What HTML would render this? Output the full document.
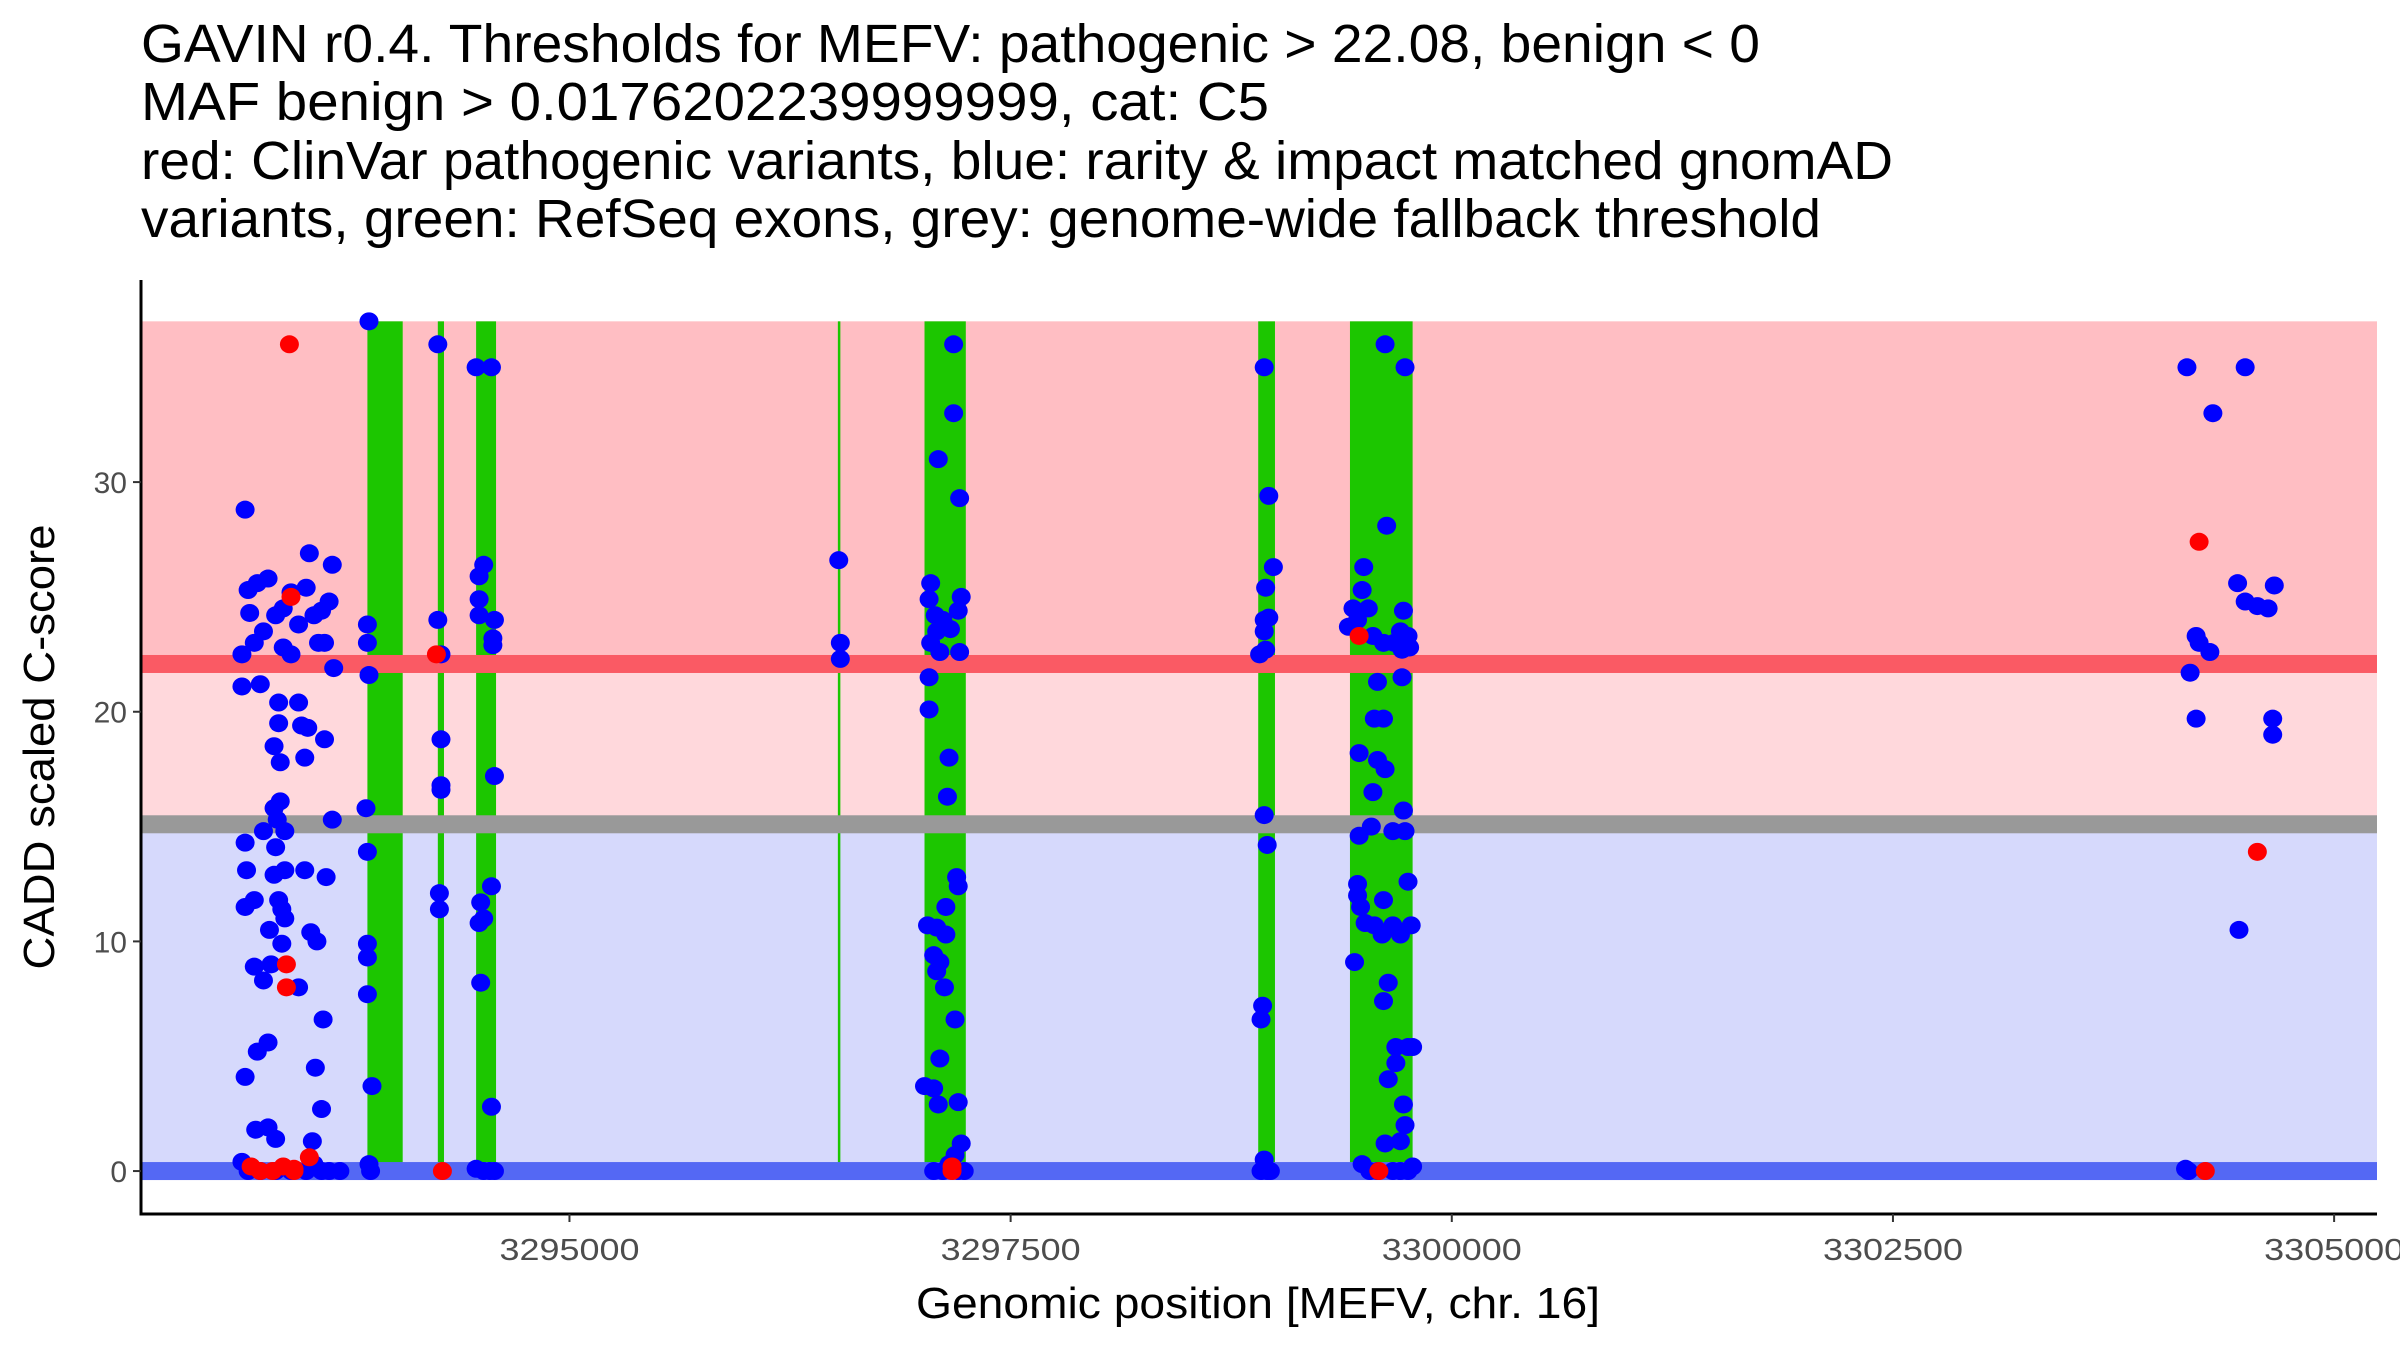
<!DOCTYPE html>
<html><head><meta charset="utf-8"><style>
html,body{margin:0;padding:0;background:#fff;}
svg{display:block;font-family:"Liberation Sans",Arial,sans-serif;}
</style></head><body>
<svg id="chart" width="2400" height="1350" viewBox="0 0 2400 1350" xmlns="http://www.w3.org/2000/svg">
<g font-size="54" fill="#000">
<text x="141" y="62" textLength="1619" lengthAdjust="spacingAndGlyphs">GAVIN r0.4. Thresholds for MEFV: pathogenic &gt; 22.08, benign &lt; 0</text>
<text x="141" y="120" textLength="1128" lengthAdjust="spacingAndGlyphs">MAF benign &gt; 0.0176202239999999, cat: C5</text>
<text x="141" y="179" textLength="1752" lengthAdjust="spacingAndGlyphs">red: ClinVar pathogenic variants, blue: rarity &amp; impact matched gnomAD</text>
<text x="141" y="237" textLength="1680" lengthAdjust="spacingAndGlyphs">variants, green: RefSeq exons, grey: genome-wide fallback threshold</text>
</g>
<g id="bands"></g>
<g id="exons"></g>
<g id="thresholds"></g>
<g id="points"></g>
<g id="axes"></g>
<text x="1258" y="1318" font-size="44" text-anchor="middle" textLength="684" lengthAdjust="spacingAndGlyphs">Genomic position [MEFV, chr. 16]</text>
<text transform="translate(54,747) rotate(-90)" font-size="44" text-anchor="middle" textLength="445" lengthAdjust="spacingAndGlyphs">CADD scaled C-score</text>
</svg>
<script>
const xTicks = [3295000, 3297500, 3300000, 3302500, 3305000];
const yTicks = [0, 10, 20, 30];
const pathogenicThreshold = 22.08;
const benignThreshold = 0;
const fallbackThreshold = 15.1;
const maxScore = 37;
const exons = [[3293855,3294055],[3294254,3294289],[3294471,3294584],[3296521,3296531],[3297012,3297246],[3298903,3298998],[3299423,3299778]];
const bluePoints = [
[3293162,28.8],[3293144,22.5],[3293144,21.1],[3293188,24.3],[3293179,25.3],[3293231,25.6],[3293292,25.8],[3293335,24.2],[3293266,23.5],[3293214,23],[3293378,24.5],[3293422,25.2],[3293465,23.8],[3293508,25.4],[3293552,24.2],[3293595,24.4],[3293638,24.8],[3293656,26.4],[3293526,26.9],[3293578,23],[3293612,23],[3293378,22.8],[3293422,22.5],[3293248,21.2],[3293352,20.4],[3293465,20.4],[3293352,19.5],[3293482,19.4],[3293517,19.3],[3293326,18.5],[3293361,17.8],[3293500,18],[3293612,18.8],[3293664,21.9],[3293162,14.3],[3293266,14.8],[3293326,15.8],[3293361,16.1],[3293344,15.3],[3293387,14.8],[3293335,14.1],[3293656,15.3],[3293170,13.1],[3293326,12.9],[3293387,13.1],[3293500,13.1],[3293621,12.8],[3293162,11.5],[3293214,11.8],[3293352,11.8],[3293370,11.4],[3293387,11],[3293300,10.5],[3293534,10.4],[3293569,10],[3293370,9.9],[3293214,8.9],[3293309,9],[3293266,8.3],[3293465,8],[3293604,6.6],[3293292,5.6],[3293231,5.2],[3293560,4.5],[3293162,4.1],[3293595,2.7],[3293222,1.8],[3293292,1.9],[3293335,1.4],[3293543,1.3],[3293144,0.4],[3293179,0],[3293248,0],[3293335,0],[3293422,0],[3293508,0],[3293552,0.3],[3293595,0],[3293638,0],[3293699,0],
[3293864,37],[3293855,23.8],[3293855,23],[3293864,21.6],[3293847,15.8],[3293855,13.9],[3293855,9.9],[3293855,9.3],[3293855,7.7],[3293881,3.7],[3293873,0],[3293864,0.3],
[3294254,36],[3294254,24],[3294272,22.5],[3294272,18.8],[3294272,16.8],[3294272,16.6],[3294263,12.1],[3294263,11.4],
[3294471,35],[3294558,35],[3294488,25.9],[3294514,26.4],[3294488,24.9],[3294488,24.2],[3294575,24],[3294566,23.2],[3294566,22.9],[3294575,17.2],[3294558,12.4],[3294497,11.7],[3294514,11],[3294488,10.8],[3294497,8.2],[3294558,2.8],[3294471,0.1],[3294514,0],[3294549,0],[3294575,0],
[3296526,26.6],[3296535,23],[3296535,22.3],
[3297177,36],[3297177,33],[3297090,31],[3297211,29.3],[3297047,25.6],[3297038,24.9],[3297073,24.2],[3297081,23.5],[3297116,24],[3297159,23.6],[3297203,24.4],[3297220,25],[3297047,23],[3297099,22.6],[3297211,22.6],[3297038,21.5],[3297038,20.1],[3297151,18],[3297142,16.3],[3297194,12.8],[3297203,12.4],[3297029,10.7],[3297081,10.6],[3297133,10.3],[3297133,11.5],[3297064,9.4],[3297099,9.1],[3297081,8.7],[3297125,8],[3297185,6.6],[3297099,4.9],[3297012,3.7],[3297064,3.6],[3297090,2.9],[3297203,3],[3297220,1.2],[3297185,0.7],[3297064,0],[3297116,0],[3297151,0.3],[3297203,0],[3297237,0],
[3298937,35],[3298963,29.4],[3298989,26.3],[3298945,25.4],[3298937,24],[3298963,24.1],[3298937,23.5],[3298911,22.5],[3298945,22.7],[3298937,15.5],[3298954,14.2],[3298928,7.2],[3298919,6.6],[3298937,0.5],[3298919,0],[3298954,0],[3298972,0],
[3299622,36],[3299735,35],[3299631,28.1],[3299501,26.3],[3299492,25.3],[3299440,24.5],[3299466,24],[3299414,23.7],[3299527,24.5],[3299553,23.3],[3299613,23],[3299674,23],[3299709,23.5],[3299726,24.4],[3299752,23.3],[3299761,22.8],[3299718,22.7],[3299579,21.3],[3299718,21.5],[3299561,19.7],[3299613,19.7],[3299475,18.2],[3299579,17.9],[3299622,17.5],[3299553,16.5],[3299475,14.6],[3299544,15],[3299666,14.8],[3299735,14.8],[3299726,15.7],[3299466,12.5],[3299466,12],[3299613,11.8],[3299752,12.6],[3299483,11.5],[3299509,10.8],[3299561,10.7],[3299605,10.3],[3299666,10.7],[3299709,10.3],[3299770,10.7],[3299449,9.1],[3299640,8.2],[3299613,7.4],[3299683,5.4],[3299752,5.4],[3299778,5.4],[3299683,4.7],[3299640,4],[3299726,2.9],[3299735,2],[3299622,1.2],[3299709,1.3],[3299492,0.3],[3299535,0],[3299579,0],[3299666,0],[3299709,0],[3299752,0],[3299778,0.2],
[3304166,35],[3304496,35],[3304313,33],[3304453,25.6],[3304496,24.8],[3304565,24.6],[3304626,24.5],[3304661,25.5],[3304218,23.3],[3304235,23],[3304296,22.6],[3304184,21.7],[3304218,19.7],[3304652,19.7],[3304652,19],[3304461,10.5],[3304158,0.1],[3304175,0]
];
const redPoints = [
[3293413,36],[3293422,25],[3293396,9],[3293396,8],[3293196,0.2],[3293248,0],[3293318,0],[3293378,0.2],[3293439,0],[3293526,0.6],[3293439,0.1],
[3294246,22.5],[3294280,0],[3297168,0.2],[3297168,0],[3299475,23.3],[3299587,0],
[3304235,27.4],[3304565,13.9],[3304270,0]
];

const NS = 'http://www.w3.org/2000/svg';
const L = 141, R = 2377, T = 280, B = 1214;
const xMin = 3292572, xMax = 3305243, yMin = -1.87, yMax = 38.8;
const xs = v => L + (v - xMin) / (xMax - xMin) * (R - L);
const ys = v => B - (v - yMin) / (yMax - yMin) * (B - T);
function mk(tag, attrs, parent) {
  const e = document.createElementNS(NS, tag);
  for (const k in attrs) e.setAttribute(k, attrs[k]);
  parent.appendChild(e);
  return e;
}
const bands = document.getElementById('bands');
let r;
r = mk('rect', {x: L, y: ys(maxScore), width: R - L, height: ys(pathogenicThreshold) - ys(maxScore), fill: '#FFBEC3'}, bands);


r = mk('rect', {x: L, y: ys(pathogenicThreshold), width: R - L, height: ys(fallbackThreshold) - ys(pathogenicThreshold), fill: '#FFD8DC'}, bands);


r = mk('rect', {x: L, y: ys(fallbackThreshold), width: R - L, height: ys(benignThreshold) - ys(fallbackThreshold), fill: '#D6D9FC'}, bands);



const ex = document.getElementById('exons');
exons.forEach(e => {
  const x0 = xs(e[0]), x1 = xs(e[1]);
  const el = mk('rect', {x: x0, y: ys(maxScore), width: Math.max(2.5, x1 - x0), height: ys(0) - ys(maxScore), fill: '#1CC600'}, ex);
  
  
});

const th = document.getElementById('thresholds');
[[pathogenicThreshold, '#FA5A64', 'pathogenic-threshold-line'], [fallbackThreshold, '#999999', 'fallback-threshold-line'], [benignThreshold, '#5468F4', 'benign-threshold-line']].forEach(t => {
  const el = mk('rect', {x: L, y: ys(t[0]) - 9, width: R - L, height: 18, fill: t[1]}, th);
  
  
});

const pts = document.getElementById('points');
bluePoints.forEach(p => {
  const c = mk('ellipse', {cx: xs(p[0]), cy: ys(p[1]), rx: 9.5, ry: 9, fill: '#0000FF'}, pts);
  
  
});
redPoints.forEach(p => {
  const c = mk('ellipse', {cx: xs(p[0]), cy: ys(p[1]), rx: 9.5, ry: 9, fill: '#FF0000'}, pts);
  
  
});

const ax = document.getElementById('axes');
let a = mk('line', {x1: L, y1: T, x2: L, y2: B + 1.5, stroke: '#000', 'stroke-width': 3}, ax);


a = mk('line', {x1: L - 1.5, y1: B, x2: R, y2: B, stroke: '#000', 'stroke-width': 3}, ax);


xTicks.forEach(v => {
  const x = xs(v);
  const tk = mk('line', {x1: x, y1: B, x2: x, y2: B + 8, stroke: '#333', 'stroke-width': 2}, ax);
  
  
  const t = mk('text', {x: x - 70, y: B + 46, 'font-size': 31, fill: '#4d4d4d', textLength: 140, lengthAdjust: 'spacingAndGlyphs'}, ax);
  t.textContent = v;
  
  
});
yTicks.forEach(v => {
  const y = ys(v);
  const tk = mk('line', {x1: L - 8, y1: y, x2: L, y2: y, stroke: '#333', 'stroke-width': 2}, ax);
  
  
  const t = mk('text', {x: L - 14, y: y + 11, 'font-size': 30, fill: '#4d4d4d', 'text-anchor': 'end'}, ax);
  t.textContent = v;
  
  
});
</script>
</body></html>
